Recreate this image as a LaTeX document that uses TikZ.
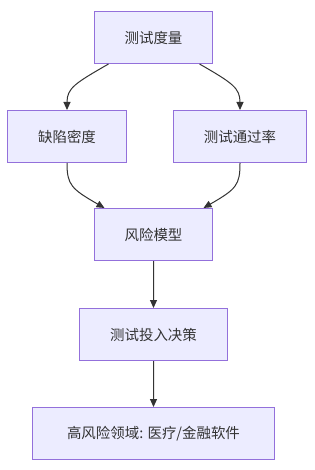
\documentclass[tikz,border=0pt]{standalone}
\usepackage{fontspec}
\setmainfont{Noto Sans CJK SC}
\usetikzlibrary{arrows.meta}
\definecolor{boxfill}{HTML}{ECECFF}
\definecolor{boxline}{HTML}{9370DB}
\definecolor{ink}{HTML}{333333}
\begin{document}
\begin{tikzpicture}[x=1bp,y=-1bp,
  box/.style={draw=boxline,fill=boxfill,line width=1bp,inner sep=0pt,
    text=ink,font=\fontsize{14.5}{17}\selectfont,anchor=north west},
  conn/.style={draw=ink,line width=1bp,-{Triangle[length=8bp,width=7bp]}}]
\useasboundingbox (0,0) rectangle (314,470);
\node[box,minimum width=118bp,minimum height=52bp] (top) at (94,11) {测试度量};
\node[box,minimum width=119bp,minimum height=52bp] (defect) at (7,110) {缺陷密度};
\node[box,minimum width=133bp,minimum height=52bp] (pass) at (173,110) {测试通过率};
\node[box,minimum width=118bp,minimum height=52bp] (risk) at (94,208) {风险模型};
\node[box,minimum width=148bp,minimum height=52bp] (inv) at (79,308) {测试投入决策};
\node[box,minimum width=242bp,minimum height=52bp] (high) at (32,407) {高风险领域: 医疗/金融软件};
\draw[conn] ([xshift=-45bp]top.south) .. controls +(-33,19) and +(0,-22) .. (defect.north);
\draw[conn] ([xshift=46bp]top.south) .. controls +(33,19) and +(0,-22) .. (pass.north);
\draw[conn] (defect.south) .. controls +(0,22) and +(-33,-19) .. ([xshift=-49bp]risk.north);
\draw[conn] (pass.south) .. controls +(0,22) and +(33,-19) .. ([xshift=50bp]risk.north);
\draw[conn] (risk) -- (inv);
\draw[conn] (inv) -- (high);
\end{tikzpicture}
\end{document}
